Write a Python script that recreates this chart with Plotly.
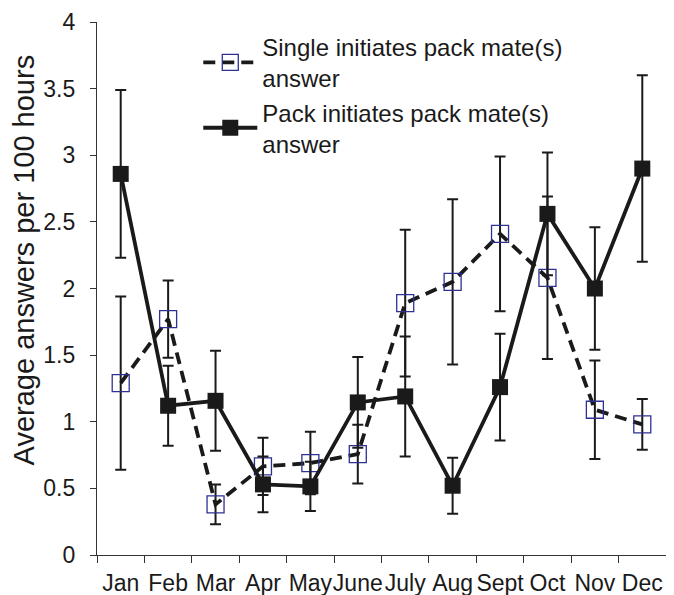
import plotly.graph_objects as go

months = ["Jan", "Feb", "Mar", "Apr", "May", "June", "July", "Aug", "Sept", "Oct", "Nov", "Dec"]
single_vals = [1.29, 1.77, 0.38, 0.665, 0.69, 0.757, 1.89, 2.05, 2.41, 2.08, 1.09, 0.98]
single_err = [0.65, 0.29, 0.15, 0.215, 0.235, 0.22, 0.55, 0.62, 0.58, 0.61, 0.37, 0.19]
pack_vals = [2.86, 1.12, 1.157, 0.53, 0.515, 1.145, 1.19, 0.52, 1.26, 2.56, 2.0, 2.9]
pack_err = [0.63, 0.30, 0.375, 0.21, 0.185, 0.34, 0.45, 0.21, 0.40, 0.46, 0.46, 0.70]
y_ticks = [0, 0.5, 1, 1.5, 2, 2.5, 3, 3.5, 4]
y_tick_text = ["0", "0.5", "1", "1.5", "2", "2.5", "3", "3.5", "4"]
y_title = "Average answers per 100 hours"

FONT = "Liberation Sans, Arial, sans-serif"
INK = "#1a1a1a"

fig = go.Figure()
fig.add_trace(go.Scatter(
    x=months, y=single_vals, mode="lines+markers",
    name="Single initiates pack mate(s)<br>answer",
    line=dict(color=INK, width=3.8, dash="12px,7px"),
    marker=dict(symbol="square-open", size=17, color="#2e3192", line=dict(width=1.3, color="#2e3192")),
    error_y=dict(type="data", array=single_err, visible=True, color=INK, thickness=2, width=5.5),
))
fig.add_trace(go.Scatter(
    x=months, y=pack_vals, mode="lines+markers",
    name="Pack initiates pack mate(s)<br>answer",
    line=dict(color=INK, width=3.8),
    marker=dict(symbol="square", size=16, color=INK),
    error_y=dict(type="data", array=pack_err, visible=True, color=INK, thickness=2, width=5.5),
))

fig.update_layout(
    width=658, height=587,
    margin=dict(l=89, r=0, t=14, b=40, autoexpand=False),
    paper_bgcolor="white", plot_bgcolor="white",
    font=dict(family=FONT, color=INK),
    showlegend=True,
    legend=dict(x=0.178, y=0.995, xanchor="left", yanchor="top",
                font=dict(size=24, family=FONT, color=INK),
                bgcolor="rgba(0,0,0,0)", tracegroupgap=0, itemwidth=54),
    xaxis=dict(type="category", range=[-0.5, 11.5], showline=True, linecolor="#333333", linewidth=1.3,
               ticks="outside", ticklen=7, tickcolor="#333333", tickson="boundaries", tickangle=0,
               ticklabelstandoff=7,
               tickfont=dict(size=23, family=FONT), showgrid=False, zeroline=False, automargin=False),
    yaxis=dict(range=[0, 4], tickvals=y_ticks, ticktext=y_tick_text, showline=True, linecolor="#333333",
               linewidth=1.3, ticks="outside", ticklen=6, tickcolor="#333333", ticklabelstandoff=10,
               tickfont=dict(size=23, family=FONT), showgrid=False, zeroline=False, automargin=False),
    annotations=[dict(text=y_title, xref="paper", yref="paper", x=-0.128, y=0.553,
                      xanchor="center", yanchor="middle", textangle=-90, showarrow=False,
                      font=dict(size=29, family=FONT, color=INK))],
)

fig.write_html("out.html")
